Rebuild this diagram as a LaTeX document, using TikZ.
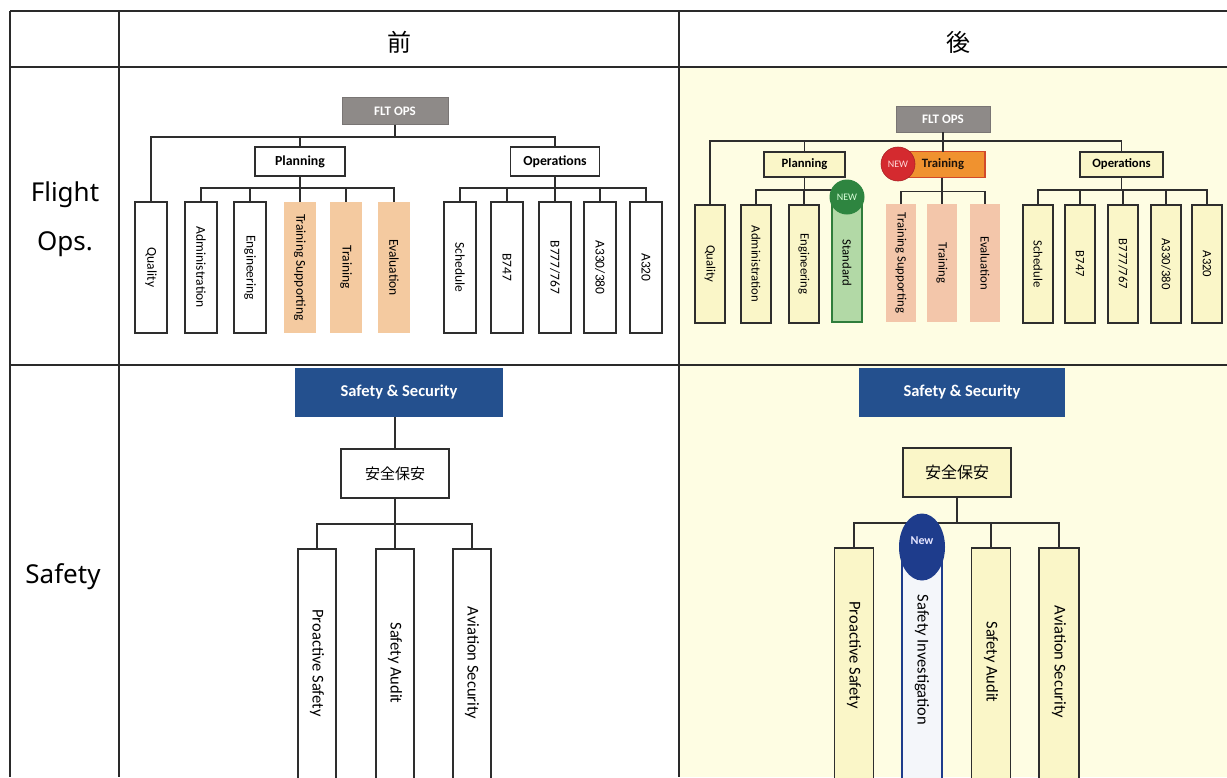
\documentclass[tikz,border=0pt]{standalone}
\usepackage{fontspec}
\setmainfont{Carlito}
\newfontfamily\jpfont{Noto Sans CJK JP}
\newfontfamily\rowfont{Noto Sans}
\usetikzlibrary{shapes.geometric}

\definecolor{rulec}{HTML}{2A2A2A}
\definecolor{boxline}{HTML}{2E2E2E}
\definecolor{afterbg}{HTML}{FEFDE3}
\definecolor{boxY}{HTML}{FAF6C8}
\definecolor{headgray}{HTML}{8E8A88}
\definecolor{peachA}{HTML}{F4CAA0}
\definecolor{peachB}{HTML}{F3C6AA}
\definecolor{trnorange}{HTML}{F0922F}
\definecolor{trnedge}{HTML}{D2492A}
\definecolor{newred}{HTML}{D42A2F}
\definecolor{greenfill}{HTML}{B2D9A6}
\definecolor{greenline}{HTML}{2F7D3B}
\definecolor{newgreen}{HTML}{2E8540}
\definecolor{navy}{HTML}{24508E}
\definecolor{newblue}{HTML}{1E3C8C}
\definecolor{invfill}{HTML}{F4F6FA}

\tikzset{
  every node/.style={inner sep=0pt, outer sep=0pt},
  tablerule/.style={line width=2pt, draw=rulec},
  link/.style={line width=1.4pt, draw=boxline},
  hdr/.style={draw=boxline, line width=1.4pt, fill=white, minimum height=29pt,
    font=\fontsize{13.8}{16}\selectfont\bfseries},
  hdrB/.style={hdr, fill=boxY, minimum height=25pt,
    font=\fontsize{12.7}{15}\selectfont\bfseries},
  headbox/.style={fill=headgray, draw=headgray!85!black, line width=0.6pt, text=white,
    font=\fontsize{13}{15}\selectfont\bfseries},
  unitbox/.style={rotate=-90, draw=boxline, line width=1.4pt, fill=white,
    minimum width=131pt, minimum height=32pt, font=\fontsize{13.5}{16}\selectfont},
  unitO/.style={unitbox, draw=none, fill=peachA},
  unitB/.style={unitbox, fill=boxY, minimum width=118pt, minimum height=30pt,
    font=\fontsize{12.7}{15}\selectfont},
  unitBO/.style={unitB, draw=none, fill=peachB},
  unitG/.style={unitB, fill=greenfill, draw=greenline, line width=1.8pt},
  badge/.style={circle, minimum size=34pt, font=\fontsize{10}{12}\selectfont},
  sstop/.style={fill=navy, text=white, font=\fontsize{16.5}{19}\selectfont\bfseries,
    minimum height=49pt},
  kan/.style={draw=boxline, line width=1.4pt, fill=white, minimum width=108pt,
    minimum height=49pt, font=\jpfont\fontsize{15}{18}\selectfont},
  sbox/.style={rotate=-90, draw=boxline, line width=1.4pt, fill=white,
    minimum width=241pt, minimum height=38pt},
  stext/.style={rotate=-90, font=\fontsize{16.5}{19}\selectfont},
  rowlabel/.style={font=\rowfont\fontsize{26}{49}\selectfont, align=center},
  colhead/.style={font=\jpfont\fontsize{24}{28}\selectfont},
}

\begin{document}
\begin{tikzpicture}[x=1pt,y=-1pt]
\useasboundingbox (0,0) rectangle (1227,777);
\clip (0,0) rectangle (1227,777);
\fill[white] (0,0) rectangle (1227,777);
\fill[afterbg] (679,66.5) rectangle (1227,777);

% ---------- table frame ----------
\draw[tablerule] (10,11) -- (1227,11);
\draw[tablerule] (10,66.5) -- (1227,66.5);
\draw[tablerule] (10,365) -- (1227,365);
\draw[tablerule] (10,11) -- (10,777);
\draw[tablerule] (118.5,11) -- (118.5,777);
\draw[tablerule] (679,11) -- (679,777);

\node[colhead] (colA) at (399,42) {前};
\node[colhead] (colB) at (958,42) {後};
\node[rowlabel] (rowFO) at (65,219) {Flight\\Ops.};
\node[rowlabel] (rowS) at (63,577) {Safety};

% ---------- Flight Ops, before ----------
\node[headbox, minimum width=106pt, minimum height=27pt] (fltA) at (395,111) {FLT OPS};
\node[hdr, minimum width=90pt] (planA) at (300,161.5) {Planning};
\node[hdr, minimum width=89pt] (opsA) at (555,161.5) {Operations};

\node[unitbox] (qA) at (151,267.5) {Quality};
\node[unitbox] (admA) at (201,267.5) {Administration};
\node[unitbox] (engA) at (250,267.5) {Engineering};
\node[unitO] (tsA) at (300,267.5) {Training Supporting};
\node[unitO] (trA) at (346,267.5) {Training};
\node[unitO] (evA) at (394,267.5) {Evaluation};
\node[unitbox] (schA) at (460,267.5) {Schedule};
\node[unitbox] (b747A) at (507,267.5) {B747};
\node[unitbox] (b777A) at (555,267.5) {B777/767};
\node[unitbox] (a330A) at (600,267.5) {A330/380};
\node[unitbox] (a320A) at (646,267.5) {A320};

\coordinate (busA) at (0,137);
\coordinate (pbA) at (0,188);
\draw[link] (fltA.south) -- (fltA.south |- busA);
\draw[link] (qA.west) -- (qA.west |- busA) -- (opsA.north |- busA) -- (opsA.north);
\draw[link] (planA.north |- busA) -- (planA.north);
\draw[link] (planA.south) -- (planA.south |- pbA);
\draw[link] (admA.west) -- (admA.west |- pbA) -- (evA.west |- pbA) -- (evA.west);
\foreach \n in {engA,tsA,trA} \draw[link] (\n.west |- pbA) -- (\n.west);
\draw[link] (opsA.south) -- (opsA.south |- pbA);
\draw[link] (schA.west) -- (schA.west |- pbA) -- (a320A.west |- pbA) -- (a320A.west);
\foreach \n in {b747A,b777A,a330A} \draw[link] (\n.west |- pbA) -- (\n.west);

% ---------- Flight Ops, after ----------
\node[headbox, minimum width=94pt, minimum height=26pt] (fltB) at (943,119) {FLT OPS};
\node[hdrB, minimum width=81pt] (planB) at (804.5,164.5) {Planning};
\node[draw=trnedge, line width=1.4pt, fill=trnorange, minimum width=90pt, minimum height=26pt,
  font=\fontsize{12.7}{15}\selectfont\bfseries, text=black!85!brown] (trnB) at (940,164.5) {\hspace*{6pt}Training};
\node[hdrB, minimum width=83pt] (opsB) at (1121.5,164.5) {Operations};

\node[unitB] (qB) at (710,264) {Quality};
\node[unitB] (admB) at (756,264) {Administration};
\node[unitB] (engB) at (804,264) {Engineering};
\node[unitG] (stdB) at (847,263) {Standard};
\node[unitBO] (tsB) at (901,263) {Training Supporting};
\node[unitBO] (trB) at (942,263) {Training};
\node[unitBO] (evB) at (985,263) {Evaluation};
\node[unitB] (schB) at (1038,264) {Schedule};
\node[unitB] (b747B) at (1080,264) {B747};
\node[unitB] (b777B) at (1123,264) {B777/767};
\node[unitB] (a330B) at (1166,264) {A330/380};
\node[unitB] (a320B) at (1207,264) {A320};

\coordinate (busB) at (0,141);
\coordinate (pbB) at (0,190);
\coordinate (tbB) at (0,191.5);
\draw[link] (fltB.south) -- (fltB.south |- trnB.north);
\draw[link] (qB.west) -- (qB.west |- busB) -- (opsB.north |- busB) -- (opsB.north);
\draw[link] (planB.north |- busB) -- (planB.north);
\draw[link] (planB.south) -- (planB.south |- pbB);
\draw[link] (admB.west) -- (admB.west |- pbB) -- (stdB.west |- pbB) -- (stdB.west);
\draw[link] (engB.west |- pbB) -- (engB.west);
\draw[link] (trB.west |- trnB.south) -- (trB.west);
\draw[link] (tsB.west) -- (tsB.west |- tbB) -- (evB.west |- tbB) -- (evB.west);
\draw[link] (opsB.south) -- (opsB.south |- pbB);
\draw[link] (schB.west) -- (schB.west |- pbB) -- (a320B.west |- pbB) -- (a320B.west);
\foreach \n in {b747B,b777B,a330B} \draw[link] (\n.west |- pbB) -- (\n.west);

\node[badge, fill=newred, draw=newred!80!black, line width=0.6pt, text=red!15] (newTrn) at (898,164) {NEW};
\node[badge, fill=newgreen, text=green!15, minimum size=35pt] (newStd) at (847,197) {NEW};

% ---------- Safety, before ----------
\node[sstop, minimum width=208pt] (ssA) at (399,392.5) {Safety \& Security};
\node[kan] (kanA) at (395,473.5) {安全保安};
\node[sbox] (psA) at (317,669.5) {};
\node[sbox] (auA) at (395,669.5) {};
\node[sbox] (avA) at (472,669.5) {};
\node[stext] (psAt) at (317,663) {Proactive Safety};
\node[stext] (auAt) at (395,663) {Safety Audit};
\node[stext] (avAt) at (472,663) {Aviation Security};

\coordinate (sbA) at (0,524);
\draw[link] (kanA.north) -- (kanA.north |- ssA.south);
\draw[link] (kanA.south) -- (auA.west);
\draw[link] (psA.west) -- (psA.west |- sbA) -- (avA.west |- sbA) -- (avA.west);

% ---------- Safety, after ----------
\node[sstop, minimum width=206pt] (ssB) at (962,392.5) {Safety \& Security};
\node[kan, fill=boxY, font=\jpfont\fontsize{16}{18}\selectfont] (kanB) at (957,472.5) {安全保安};
\node[sbox, fill=boxY, minimum height=39pt] (psB) at (854,668.5) {};
\node[sbox, fill=invfill, draw=newblue, line width=2.4pt, minimum height=40pt] (siB) at (922,668.5) {};
\node[sbox, fill=boxY, minimum height=39pt] (auB) at (991,668.5) {};
\node[sbox, fill=boxY, minimum height=40pt] (avB) at (1059,668.5) {};
\node[stext] (psBt) at (854,655) {Proactive Safety};
\node[stext] (siBt) at (922,660) {Safety Investigation};
\node[stext] (auBt) at (991,662) {Safety Audit};
\node[stext] (avBt) at (1059,662) {Aviation Security};

\coordinate (sbB) at (0,523);
\draw[link] (kanB.south) -- (kanB.south |- sbB);
\draw[link] (psB.west) -- (psB.west |- sbB) -- (avB.west |- sbB) -- (avB.west);
\draw[link] (siB.west |- sbB) -- (siB.west);
\draw[link] (auB.west |- sbB) -- (auB.west);

\node[ellipse, fill=newblue, minimum width=46pt, minimum height=67pt] (newInv) at (922,547) {};
\node[text=white!90!blue, font=\fontsize{12}{14}\selectfont\bfseries] (newInvT) at (922,541) {New};
\end{tikzpicture}
\end{document}
